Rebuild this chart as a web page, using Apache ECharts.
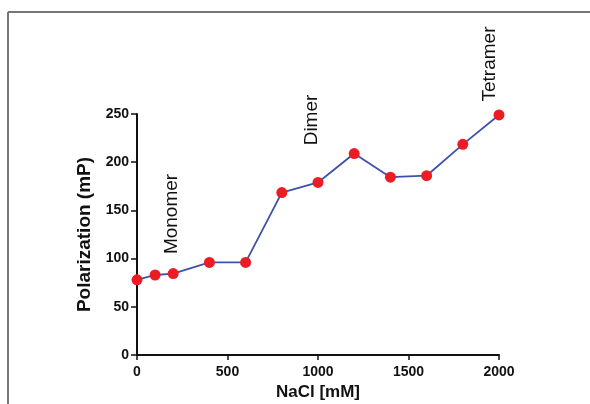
<!DOCTYPE html>
<html>
<head>
<meta charset="utf-8">
<script src="https://cdn.jsdelivr.net/npm/echarts@6/dist/echarts.min.js"></script>
<style>html,body{margin:0;padding:0;background:#fff}#c{width:590px;height:404px}</style>
</head>
<body>
<div id="c"></div>
<script>
var nacl = [0, 100, 200, 400, 600, 800, 1000, 1200, 1400, 1600, 1800, 2000];
var polarization = [78, 83, 84.5, 96, 96, 168.5, 179, 209, 184.5, 186, 218.5, 249];
var xTicks = [0, 500, 1000, 1500, 2000];
var yTicks = [0, 50, 100, 150, 200, 250];
var annotations = ['Monomer', 'Dimer', 'Tetramer'];

var font = '"Liberation Sans", Arial, sans-serif';
var chart = echarts.init(document.getElementById('c'), null, {renderer: 'canvas'});
var data = nacl.map(function (x, i) { return [x, polarization[i]]; });
var annPos = [[172, 214], [312, 120], [490, 64]];

chart.setOption({
  animation: false,
  backgroundColor: '#fff',
  grid: {left: 137, right: 91, top: 114, bottom: 49, containLabel: false, outerBoundsMode: 'none'},
  xAxis: {
    type: 'value', min: 0, max: 2000, interval: 500,
    name: 'NaCl [mM]', nameLocation: 'middle', nameGap: 28,
    nameTextStyle: {fontFamily: font, fontSize: 17, fontWeight: 'bold', color: '#111'},
    axisLine: {lineStyle: {color: '#111', width: 2}},
    axisTick: {show: true, length: 5, lineStyle: {color: '#111', width: 1.5}},
    axisLabel: {fontFamily: font, fontSize: 14, fontWeight: 'bold', color: '#111', margin: 10,
      formatter: function (v) { return xTicks.indexOf(v) >= 0 ? String(v) : ''; }},
    splitLine: {show: false}
  },
  yAxis: {
    type: 'value', min: 0, max: 250, interval: 50,
    name: 'Polarization (mP)', nameLocation: 'middle', nameGap: 37,
    nameTextStyle: {fontFamily: font, fontSize: 19, fontWeight: 'bold', color: '#111'},
    axisLine: {show: true, lineStyle: {color: '#111', width: 2}},
    axisTick: {show: true, length: 6, lineStyle: {color: '#111', width: 1.5}},
    axisLabel: {fontFamily: font, fontSize: 14, fontWeight: 'bold', color: '#111', margin: 8,
      formatter: function (v) { return yTicks.indexOf(v) >= 0 ? String(v) : ''; }},
    splitLine: {show: false}
  },
  series: [{
    type: 'line',
    data: data,
    symbol: 'circle',
    symbolSize: 11,
    lineStyle: {color: '#3d52a8', width: 1.8},
    itemStyle: {color: '#ec1c24', borderWidth: 0},
    z: 3
  }],
  graphic: [
    {type: 'line', shape: {x1: 8, y1: 12, x2: 590, y2: 12}, style: {stroke: '#777', lineWidth: 2}},
    {type: 'line', shape: {x1: 8, y1: 12, x2: 8, y2: 404}, style: {stroke: '#777', lineWidth: 2}}
  ].concat(annotations.map(function (t, i) {
    return {
      type: 'text', x: annPos[i][0], y: annPos[i][1], rotation: Math.PI / 2,
      style: {text: t, fontFamily: font, fontSize: 19, fill: '#111', align: 'center', verticalAlign: 'middle'}
    };
  }))
});
</script>
</body>
</html>
